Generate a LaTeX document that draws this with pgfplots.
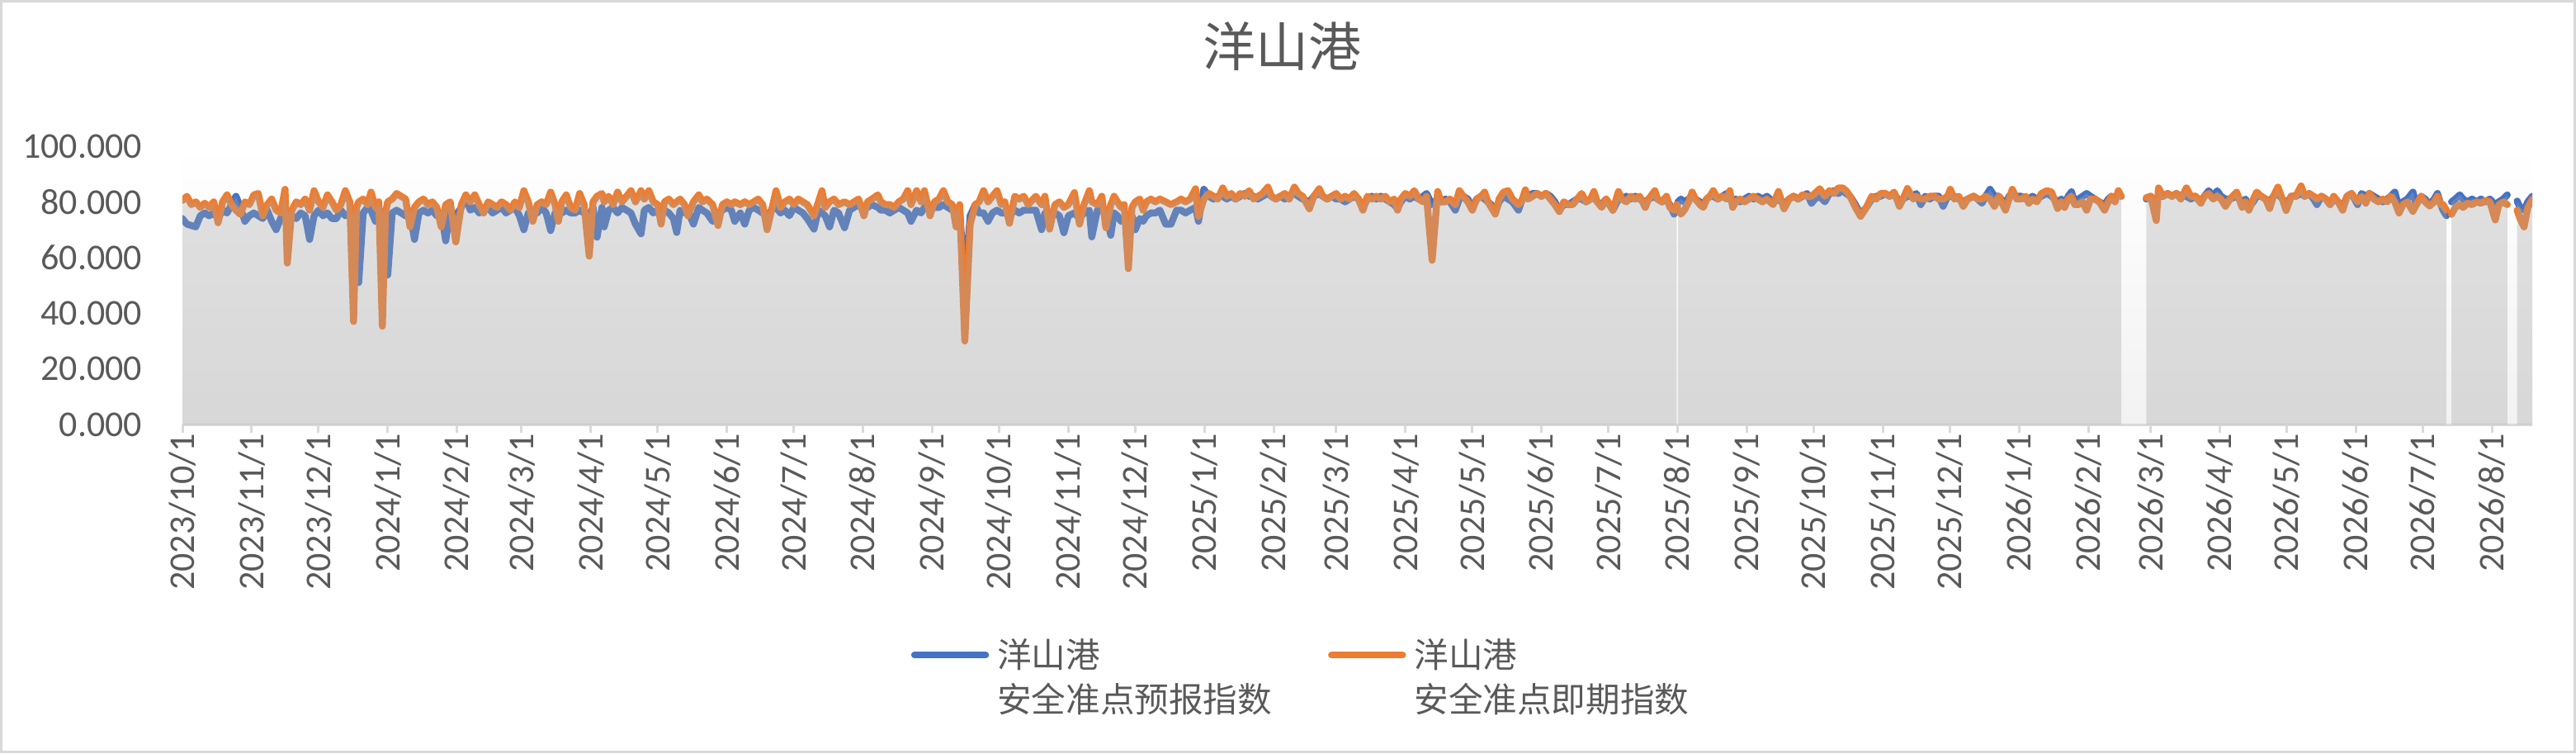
\documentclass[border=0pt]{standalone}
\usepackage{pgfplots}
\pgfplotsset{compat=1.18}
\usepackage{pgfplotstable}
\usepackage{fontspec}
\setmainfont{Carlito}
\newfontfamily\cjk{Noto Sans CJK SC}
\definecolor{txt}{HTML}{595959}
\definecolor{bl}{HTML}{4472C4}
\definecolor{orn}{HTML}{ED7D31}
\definecolor{axc}{HTML}{D9D9D9}
\definecolor{areac}{HTML}{A4A4A4}
\definecolor{bgbot}{HTML}{F2F2F2}

\pgfplotstableread{
x b o
0 74 80.5
2 72 82
4 71.5 79
6 71 80
8 75 78
10 76 79.5
12 75 78
14 76 80
16 74 72.5
18 77 80
20 76 82.5
22 79 79
24 82 77
26 78 75.5
28 73 80
30 75 79
32 76 82.5
34 75 83
36 74 75
38 77 79
40 73 81
42 70 77
44 74 76
46 77 84.5
47 76 58
49 75 77
51 74 80
53 76 79
55 75 81
57 66.5 77
59 75 84
61 77 80
63 75 78
65 76 82.5
67 74 80
69 74 77
71 77 79
73 75 84
75 76 80
76.7 75 37
78 74 78
79 51 80
81 76 81
83 78 79
84.5 77 83.5
86.5 73 78
88 75 80
89.6 76 35.3
91 77 76
92 53.7 80
94 76 81
96 77 83
98 76 82
100 75 81
102 76 71
104 66.5 78
106 76 80
108 77 81
110 76 79
112 77 80
114 75 78
116 76 71
118 66 79
120 77 80
122.5 75 65.6
125 78 79
127 82 82.5
129 77 80
131 78 82.5
133 76 79
135 77 76
137 78 80
139 76 79
141 77 78
143 78 80
145 76 79
147 77 77
149 78 80
151 75 78
153 70 84
155 76 80
157 77 73
159 76 79
161 78 80
163 76 79
165 69.7 83.5
167 76 79
168.5 77 73
170 76 80
172 77 82.5
174 76 78
176 76 77
178 77 83
180 76 79
182.3 75 60.5
184 78 80
185.8 67.3 82
188 78 83
189 71 80
191 77 82
193 78 79
195 76 83.5
197 78 80
199 77 82
201 76 84
203 72 80
205.5 68.5 84
207 77 81
209 78 84
211 76 80
213 77 79
214.5 76 72
216 77 80
218 76 81
220 74 79
221.5 69 80
223 77 81
225 76 79
226.5 77 75
229 72 80
231.4 78 82.5
233 77 80
235 76 81
237.6 73 79
240 76 71.5
242 77 79
244 78 80
246 77 79
247.5 73 80
250 76 79
252 72 80
254 77 79
256 78 80
258 77 81
260 76 79
262 75 70
264 77 77
266 78 84
268 76 78
270 77 80
272 75 81
274 78 79
276 77 81
278 76 80
280 74 79
283 70.2 75
285 77 80
286.6 76 84
288 75 78
290 71 80
292 77 81
294 76 79
296.7 70.7 80
299 77 79
301 78 80
303 79 81
305.4 77 75
307 78 80
309 79 81
311.6 78 82.5
313 77 80
315 77 79
317 76 79
319 77 78
321 78 80
323 77 81
325 76 84
326.5 73 79
329 77 84
331 76 80
332.5 78 84
335 77 75
337 78 80
339 78 81
341 79 84
343 78 80
345 77 79
346.7 76 71
348.3 77 79
350.6 50 30
353 75 72
355.3 79 79
357 76 80
359 76 84
361 73 80
363 76 82
365 77 84
367 76 79
368.5 76 80
370.6 75 72.3
373 77 82
375 76 81
377 77 82
379 77 79
382.4 77 82
385 70 79
386.5 76 82
388.6 75 70.2
391 76 79
393 75 80
395 68.9 78
397 75 79
399.7 76 83.3
402 74 72
404 76 79
406.4 77 84
407.5 67.4 80
410 77 79
412 77 82
413.8 76 70.7
416 68 79
417.5 76 82
419 75 80
420.6 73 78
422 74 79
423.9 72 56
425.5 75 78
427 70 80
429 74 81
430.5 73 77
432 75 80
434 76 81
436 76 80
438 77 81
440.6 72 80
443 72 79
445.5 77 80
447.5 77 81
449.5 76 80
451.6 77 81
454 78 84.7
455.3 73 74.8
457.7 84.5 81
460 82 83
462 81 82
464 82 81
466.2 82 85
468 81 82
470 82 83
472 81 81
474 82 83
476 83 82
478 82 84
480 82 81
482 81 82
484 82 83
486.4 83 85.3
488 82 82
490 81 81
492 82 82
494 81 83
496 82 81
498.3 83 85.3
500 82 83
502 81 82
505 80 77.5
507 82 82
509.4 83 84.7
511 82 82
513 81 81
515 82 82
517 81 83
519 81 81
521 80 82
523 81 81
525 82 83
527 81 81
529 78 77
531 81 82
533 82 81
535 81 82
537 82 81
539 81 82
541 80 80
543 79 81
544.5 77.5 77
546 80 81
548 82 83
550 81 82
552 82 84
554 81 81
556 82 80
557.5 83 82
560 79 59
562.5 81 83.7
564 80 80
566 81 80
568 80 81
570.4 77 79
572.2 81 84
574 82 82
576 81 80
578 78 77
580 81 81
582 82 82
583.5 81 83.5
585 80 80
586.5 79 78
588.3 76 75.6
590 80 81
592 82 83.5
594 81 84
596 80 81
598.7 77 79
600 80 80
601.8 83 84.3
603 82 81
605 83 82
607 83 83
609 82 82
611 83 83
613 82 81
615 80 79
617 77 76.5
619 79 80
621 79 79
623 80 79
625 81 81
627 81 83
629 80 80
631 81 81
632.5 82 83.7
634 80 80
636 79 78
638 81 81
641 77 77
643.5 81 83.7
645 81 81
647 82 80
649 81 82
651 82 81
653 81 82
655.5 80 78
657 81 81
659.8 82 84
661 81 81
663 80 80
665 81 82
666.5 79 78
668.4 75.6 77
669.6 78 79
670.2 80 77
671.5 81 75.6
673 80 77
675 81 80
676.5 82 83.5
678 81 81
680 80 79
681.5 79 78
683 81 81
684.5 82 82
686 82 84
688 81 81
690 82 82
692 83 81
693.4 82 84
694.7 80 78
696 81 80
698 80 81
700 81 80
702 82 81
704 81 82
706 82 81
708 81 80
710 82 81
712.8 80 79
715.2 81 83.7
717.7 79 77.5
720 81 81
722 82 82
724 81 81
726 82 82.5
728 83 82
730 79.5 82
731.5 81 83
733.7 82 84.7
736 80 82
738 83 84
740 84 83
742 83 85
744 84 85
745.5 83 84
747.3 82 82
749.7 79 78
752 75.5 74.8
754.6 78 78
757 81 82
759 82 81
761 82 83
763 83 83
765 82 82
767 83 83.5
769.4 80 78.4
771 81 81
773 82 84.8
775.6 82 81
777 83 82
779 79 81
781 82 81
783 81 82
785 82 82
787 82 81
789 78.4 81
791 82 82
792.2 82 84.5
794 82 81
796 81 82
798 80 78.4
800 81 81
802.7 82 82
804.5 81 81
806.4 79.5 81
808 82 82
810 84.5 81
812 82 78.4
814 82 82
816.9 79 77
818.5 82 81
820 83 84.5
822 82 81
824 82 81
826 81 82
827.4 81 79.5
829 82 81
831 81 80
833 82 83
835.5 83 84
837.6 82 83.5
840.3 80 77.6
842 81 80
843.4 79 78
845 82 81
846.5 83.6 82
848 80 79
849.6 81 79
851.5 82 80
853.3 83 77
855 82 81
857 81 81
859 80 80
861.3 79 77
863 81 80
864.4 82 82
866 81 80
867.5 83 84
868.8 82 82
870 nan nan
880 81 81.5
882 82 82
884.5 80 73.3
885.5 82 85
887.5 82 82
889.6 83 83
891.5 82 82
893.5 83 83
895.5 82 81
898 82 85
900 81 82
902 82 82
904.5 80 79.5
906 82 82
908 84 83
910 82 81
911.8 84 82
913.5 82 81
915.5 81 78.4
917.5 81 81
920.5 82 83.5
923 80 78
924.5 81 80
926 78 77
928 80 81
929.5 82 83.5
931.5 82 82
933.5 81 81
935.3 80 77.6
937 82 82
939 83 85.3
941 81 81
942.7 79 76.9
945 82 82
947 82 82
949.4 83 85.7
951 82 82
953 83 83
955 81 82
956.5 79 81
958.5 82 82
960.5 81 81
962.4 79 79
964 81 82
966 80 80
968 78 77
970 82 82
972 83 83
974.7 79 80
976.5 83 82
978.4 82 79.5
980 83 83
982 82 81
984 81 80
986 80 81
988 81 80
989.5 82 82
991.4 83.5 80
993.3 78 76
995 80 79
997 81 80
999.5 83.5 76.6
1001 79 79
1003.2 82 82
1005 81 80
1007 79 78.5
1009 81 80
1010.5 83 82
1012 79 79
1013 77 79
1014.5 75 77
1015.5 nan nan
1016.8 80 75.5
1018.5 81 78
1020.5 82.5 79
1022 81 78
1024 80 79.5
1026 81 79
1028 80 80
1030 81 79.5
1032 80 80.5
1034 81 80
1036.4 79 73.5
1038 80 79
1040 81 80
1041.8 82.5 79
1043 nan nan
1046.2 80.3 77
1047.5 78 74
1049.3 77 71
1051 80 78
1053 82 81
}\data

\begin{document}
\begin{tikzpicture}
\useasboundingbox (0,0) rectangle (780.25pt,228pt);
\draw[axc, line width=0.75pt] (0.375pt,0.375pt) rectangle (779.875pt,227.625pt);
\begin{axis}[
  at={(55.25pt,99.5pt)}, anchor=south west,
  scale only axis, width=711.75pt, height=84.25pt,
  xmin=0, xmax=1053, ymin=0, ymax=100,
  axis background/.style={top color=white, bottom color=bgbot},
  axis x line=bottom, axis y line=left,
  x axis line style={-, draw=axc, line width=0.75pt},
  y axis line style={draw=none},
  xtick={0,31,61,92,123,152,183,213,244,274,305,336,366,397,427,458,489,517,548,578,609,639,670,701,731,762,792,823,854,882,913,943,974,1004,1035},
  xticklabels={2023/10/1,2023/11/1,2023/12/1,2024/1/1,2024/2/1,2024/3/1,2024/4/1,2024/5/1,2024/6/1,2024/7/1,2024/8/1,2024/9/1,2024/10/1,2024/11/1,2024/12/1,2025/1/1,2025/2/1,2025/3/1,2025/4/1,2025/5/1,2025/6/1,2025/7/1,2025/8/1,2025/9/1,2025/10/1,2025/11/1,2025/12/1,2026/1/1,2026/2/1,2026/3/1,2026/4/1,2026/5/1,2026/6/1,2026/7/1,2026/8/1},
  xtick style={draw=axc, line width=0.75pt},
  tick align=outside, major tick length=2.5pt,
  xticklabel style={font=\fontsize{11}{11}\selectfont, text=txt, rotate=90, anchor=east, inner sep=0pt},
  ytick={0,20,40,60,80,100},
  ytick style={draw=none},
  yticklabel style={font=\fontsize{11}{11}\selectfont, text=txt, anchor=east, inner sep=0pt, xshift=-9.5pt,
    /pgf/number format/.cd, fixed, fixed zerofill, precision=3, assume math mode=true},
  title={洋山港},
  title style={font=\cjk\fontsize{16}{16}\selectfont, text=txt, at={(0.4679,1.288)}, anchor=center, inner sep=0pt},
  legend columns=2,
  legend style={draw=none, fill=none, at={(0.3101,-0.763)}, anchor=north west, inner sep=0pt, outer sep=0pt,
    column sep=2.5pt, /tikz/every even column/.append style={column sep=17pt},
    nodes={inner sep=0pt, anchor=base west, text=txt, font=\cjk\fontsize{10.4}{13.5}\selectfont}},
  legend image code/.code={\draw[#1, line width=2.1pt, line cap=round] (0pt,3.95pt) -- (21.5pt,3.95pt);},
  unbounded coords=jump,
  every axis plot/.append style={line join=round, line cap=round},
]
\addplot[bl, line width=2.1pt] table[x=x, y=b] {\data};
\addlegendentry{\begin{tabular}[t]{@{}l@{}}洋山港\\安全准点预报指数\end{tabular}}
\addplot[orn, line width=2.1pt] table[x=x, y=o] {\data};
\addlegendentry{\begin{tabular}[t]{@{}l@{}}洋山港\\安全准点即期指数\end{tabular}}
\addplot[forget plot, draw=none, fill=areac, fill opacity=0.33, restrict x to domain=0:669.6] table[x=x, y expr={max(\thisrow{b},\thisrow{o})}] {\data} \closedcycle;
\addplot[forget plot, draw=none, fill=areac, fill opacity=0.33, restrict x to domain=670.2:868.8] table[x=x, y expr={max(\thisrow{b},\thisrow{o})}] {\data} \closedcycle;
\addplot[forget plot, draw=none, fill=areac, fill opacity=0.33, restrict x to domain=880:1014.5] table[x=x, y expr={max(\thisrow{b},\thisrow{o})}] {\data} \closedcycle;
\addplot[forget plot, draw=none, fill=areac, fill opacity=0.33, restrict x to domain=1016.8:1041.8] table[x=x, y expr={max(\thisrow{b},\thisrow{o})}] {\data} \closedcycle;
\addplot[forget plot, draw=none, fill=areac, fill opacity=0.33, restrict x to domain=1046.2:1053] table[x=x, y expr={max(\thisrow{b},\thisrow{o})}] {\data} \closedcycle;
\end{axis}
\end{tikzpicture}
\end{document}
